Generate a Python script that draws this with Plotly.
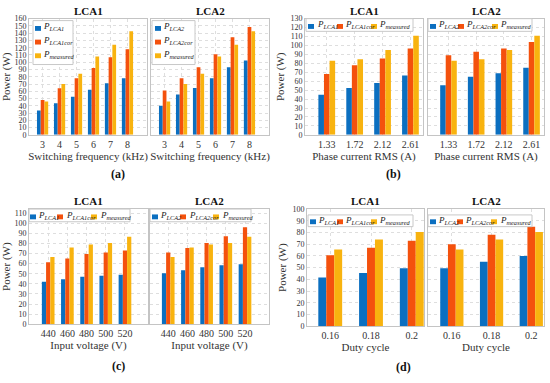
import plotly.graph_objects as go

# ---------------- data ----------------
freq_khz = [3, 4, 5, 6, 7, 8]
a_lca1 = [33.5, 43.5, 52.5, 62, 71, 78]
a_lca1_cor = [48, 64, 78, 92, 107, 118]
a_measured = [46, 70, 84, 108, 124, 142.5]
a_lca2 = [40, 55.5, 64.5, 78, 93, 102.5]
a_lca2_cor = [61, 78, 93, 111, 134.5, 148.5]

current_rms = ["1.33", "1.72", "2.12", "2.61"]
b_lca1 = [45, 52.5, 58, 66.5]
b_lca1_cor = [68, 78, 85.5, 96.5]
b_measured = [83, 84.5, 95, 111]
b_lca2 = [55.5, 65, 69, 75]
b_lca2_cor = [89, 93, 96.5, 104]

voltage = ["440", "460", "480", "500", "520"]
c_lca1 = [42, 44.5, 47, 48, 49]
c_lca1_cor = [61.5, 65, 69.5, 71, 73]
c_measured = [66.5, 76, 79, 80.5, 86.5]
c_lca2 = [50.5, 53.5, 56.5, 58.5, 59.5]
c_lca2_cor = [71, 75.5, 80.5, 87, 96]

duty = ["0.16", "0.18", "0.2"]
d_lca1 = [41.5, 45.5, 49.5]
d_lca1_cor = [60.5, 67, 73]
d_measured = [65.5, 74, 80.5]
d_lca2 = [49.5, 55, 60]
d_lca2_cor = [70, 78, 85]

# ---------------- style ----------------
W, H = 550, 383
BLUE, ORANGE, YELLOW = "#0b6fc0", "#f4510d", "#f8b30f"
FONT = "Liberation Serif"
GRID = "#dedede"
FRAME = "#c4c4c4"

def fx(px):
    return px / W

def fy(py):
    return 1 - py / H

fig = go.Figure()

panels = [
    dict(xp=(29, 147), yp=(15, 134), ymax=160, x=freq_khz, xr=[2.2, 9.15], bw=0.22,
         ys=[a_lca1, a_lca1_cor, a_measured], lca="LCA1", xt="Switching frequency (kHz)", left=True),
    dict(xp=(151, 269), yp=(15, 134), ymax=160, x=freq_khz, xr=[2.2, 9.15], bw=0.22,
         ys=[a_lca2, a_lca2_cor, a_measured], lca="LCA2", xt="Switching frequency (kHz)", left=False),
    dict(xp=(305, 423), yp=(15, 134), ymax=130, x=current_rms, xr=[-0.78, 3.45], bw=0.2,
         ys=[b_lca1, b_lca1_cor, b_measured], lca="LCA1", xt="Phase current RMS (A)", left=True),
    dict(xp=(428, 544), yp=(15, 134), ymax=130, x=current_rms, xr=[-0.74, 3.45], bw=0.2,
         ys=[b_lca2, b_lca2_cor, b_measured], lca="LCA2", xt="Phase current RMS (A)", left=False),
    dict(xp=(29, 148), yp=(210, 328), ymax=114, x=voltage, xr=[-1.0, 5.2], bw=0.22,
         ys=[c_lca1, c_lca1_cor, c_measured], lca="LCA1", xt="Input voltage (V)", left=True),
    dict(xp=(150, 269), yp=(210, 328), ymax=114, x=voltage, xr=[-0.95, 5.25], bw=0.22,
         ys=[c_lca2, c_lca2_cor, c_measured], lca="LCA2", xt="Input voltage (V)", left=False),
    dict(xp=(307, 424), yp=(210, 330), ymax=100, x=duty, xr=[-0.57, 2.3], bw=0.195,
         ys=[d_lca1, d_lca1_cor, d_measured], lca="LCA1", xt="Duty cycle", left=True),
    dict(xp=(428, 544), yp=(210, 330), ymax=100, x=duty, xr=[-0.6, 2.32], bw=0.195,
         ys=[d_lca2, d_lca2_cor, d_measured], lca="LCA2", xt="Duty cycle", left=False),
]

colors = [BLUE, ORANGE, YELLOW]
layout_axes = {}
annotations = []
shapes = []

for k, p in enumerate(panels, start=1):
    xa = "x" if k == 1 else f"x{k}"
    ya = "y" if k == 1 else f"y{k}"
    numeric = isinstance(p["x"][0], (int, float))
    for i, (vals, c) in enumerate(zip(p["ys"], colors)):
        fig.add_trace(go.Bar(
            x=p["x"], y=vals, xaxis=xa, yaxis=ya, marker=dict(color=c, line=dict(width=0)),
            width=p["bw"], offset=-1.5 * p["bw"] + i * p["bw"], showlegend=False,
        ))
    xkey = "xaxis" if k == 1 else f"xaxis{k}"
    ykey = "yaxis" if k == 1 else f"yaxis{k}"
    xa_def = dict(
        domain=[fx(p["xp"][0]), fx(p["xp"][1])], anchor=ya, range=p["xr"],
        type="linear" if numeric else "category",
        showgrid=True, gridcolor=GRID, griddash="dot", gridwidth=1,
        showline=True, linecolor=FRAME, linewidth=1, mirror=True,
        ticks="", tickfont=dict(family=FONT, size=10, color="#333"),
        title=dict(text=p["xt"], font=dict(family=FONT, size=11, color="#333"), standoff=0),
        zeroline=False, fixedrange=True,
    )
    if numeric:
        xa_def["tickvals"] = p["x"]
    layout_axes[xkey] = xa_def
    layout_axes[ykey] = dict(
        domain=[fy(p["yp"][1]), fy(p["yp"][0])], anchor=xa, range=[0, p["ymax"]],
        tickvals=list(range(0, int(p["ymax"]) // 10 * 10 + 1, 10)),
        showgrid=True, gridcolor=GRID, griddash="dot", gridwidth=1,
        showline=True, linecolor=FRAME, linewidth=1, mirror=True,
        showticklabels=p["left"], ticks="", ticklen=0,
        tickfont=dict(family=FONT, size=8, color="#333"), zeroline=False,
        title=dict(text="Power (W)" if p["left"] else "", font=dict(family=FONT, size=11, color="#333"), standoff=3),
        fixedrange=True,
    )
    annotations.append(dict(
        text=f"<b>{p['lca']}</b>", x=fx((p["xp"][0] + p["xp"][1]) / 2), y=fy(p["yp"][0] - 8),
        xref="paper", yref="paper", showarrow=False, xanchor="center", yanchor="middle",
        font=dict(family=FONT, size=11, color="#111"),
    ))

# ---------------- legends (drawn manually to fit the small boxes) ----------------
def leg_label(sub):
    return f"<i>P</i><sub><i>{sub}</i></sub>"

def add_legend(box, entries):
    x0, y0, x1, y1 = box
    shapes.append(dict(type="rect", xref="paper", yref="paper", x0=fx(x0), x1=fx(x1), y0=fy(y1), y1=fy(y0),
                       line=dict(color="#c8c8c8", width=1), fillcolor="white", layer="above"))
    for (sx, sy, tx, text, col) in entries:
        shapes.append(dict(type="rect", xref="paper", yref="paper", x0=fx(sx), x1=fx(sx + 6),
                           y0=fy(sy + 2.5), y1=fy(sy - 2.5), line=dict(width=0), fillcolor=col, layer="above"))
        annotations.append(dict(text=text, x=fx(tx), y=fy(sy - 1.5), xref="paper", yref="paper",
                                showarrow=False, xanchor="left", yanchor="middle",
                                font=dict(family=FONT, size=9, color="#222")))

def add_vlegend(box, sx, tx, ys, lca):
    subs = [lca, lca + "cor", "measured"]
    add_legend(box, [(sx, ys[i], tx, leg_label(subs[i]), colors[i]) for i in range(3)])

add_vlegend((33, 17, 73, 62), 35, 41, [25, 39, 53], "LCA1")
add_vlegend((152, 17, 195, 62), 155, 161, [25, 39, 53], "LCA2")

def add_hlegend(box, sy, pos, lca):
    subs = [lca, lca + "cor", "measured"]
    add_legend(box, [(pos[i][0], sy, pos[i][1], leg_label(subs[i]), colors[i]) for i in range(3)])

add_hlegend((306, 15, 413, 28), 23, [(308, 315), (337, 343), (371, 377)], "LCA1")
add_hlegend((428, 15, 532, 28), 23, [(430, 436), (458, 464), (492, 498)], "LCA2")
add_hlegend((29, 210, 130, 223), 218, [(30, 36), (57, 64), (91, 98)], "LCA1")
add_hlegend((150, 210, 251, 223), 218, [(152, 158), (180, 187), (213, 220)], "LCA2")
add_hlegend((308, 216, 413, 228), 223, [(310, 316), (337, 343), (371, 377)], "LCA1")
add_hlegend((428, 216, 532, 228), 223, [(430, 436), (457, 463), (491, 498)], "LCA2")

for lab, px, py in [("(a)", 118, 174), ("(b)", 393, 174), ("(c)", 118, 371), ("(d)", 403, 372)]:
    annotations.append(dict(text=f"<b>{lab}</b>", x=fx(px), y=fy(py), xref="paper", yref="paper",
                            showarrow=False, xanchor="center", yanchor="middle",
                            font=dict(family=FONT, size=12, color="#111")))

fig.update_layout(
    width=W, height=H, margin=dict(l=0, r=0, t=0, b=0),
    paper_bgcolor="white", plot_bgcolor="white",
    barmode="group", showlegend=False,
    annotations=annotations, shapes=shapes,
    font=dict(family=FONT),
    **layout_axes,
)

fig.write_html("out.html", config={"displayModeBar": False},
               post_script="document.body.style.margin='0';document.body.style.overflow='hidden';")
